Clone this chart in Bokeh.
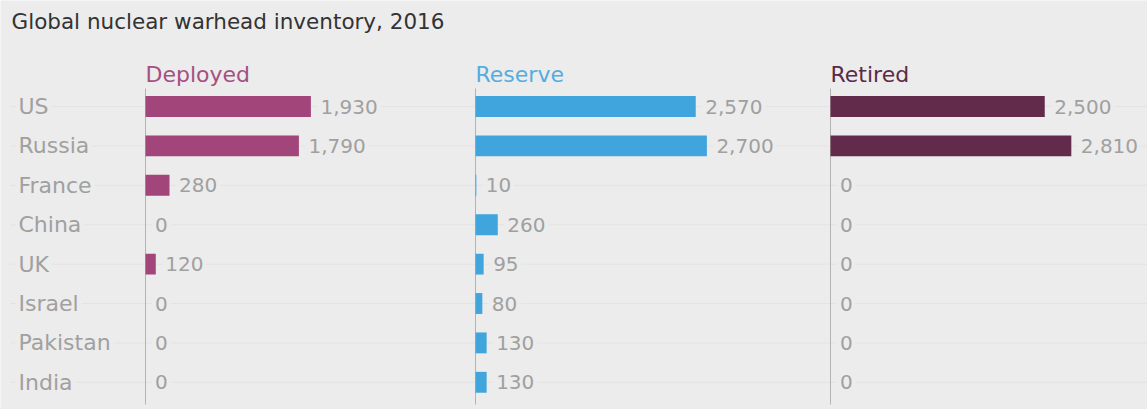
from bokeh.plotting import figure
from bokeh.models import Range1d, ColumnDataSource
from bokeh.core.properties import value
from bokeh.embed import file_html
from bokeh.resources import INLINE

# ---- data ----
countries = ["US", "Russia", "France", "China", "UK", "Israel", "Pakistan", "India"]
deployed = [1930, 1790, 280, 0, 120, 0, 0, 0]
reserve = [2570, 2700, 10, 260, 95, 80, 130, 130]
retired = [2500, 2810, 0, 0, 0, 0, 0, 0]
panel_names = ["Deployed", "Reserve", "Retired"]
title_text = "Global nuclear warhead inventory, 2016"

# ---- style / layout ----
BG = "#ececec"
bar_colors = ["#a2457a", "#3fa5dc", "#622b4b"]
head_colors = ["#a64f83", "#55addf", "#5a2a46"]
LABEL_C = "#a0a0a0"
FONT = value("DejaVu Sans")
W, H = 1147, 409
PX = 1 / 0.0857                # warheads per pixel
AX0 = 145                      # pixel position of first panel's axis
panel_px = [0, 330, 685]       # panel axis offsets (pixels)
offsets = [p * PX for p in panel_px]
ROW0, STEP = 106, 39.4         # y pixel of first row centre and row step

def ypix(py):
    return (py - ROW0) / STEP

def xpix(px):
    return (px - AX0) * PX

p = figure(width=W, height=H, output_backend="svg", toolbar_location=None,
           x_range=Range1d(xpix(0), xpix(W)), y_range=Range1d(ypix(H), ypix(0)),
           min_border=0, background_fill_color=BG, border_fill_color=BG,
           outline_line_color=None)
p.axis.visible = False
p.grid.visible = False

rows = list(range(len(countries)))

# faint gridlines at row centres
p.segment(x0=[xpix(10)] * len(rows), x1=[xpix(W)] * len(rows), y0=rows, y1=rows,
          line_color="#e3e3e3", line_width=1)

# row labels
p.text(x=[xpix(15)] * len(rows), y=rows, text=countries, text_font=FONT,
       text_font_size="22px", text_color=LABEL_C, text_baseline="middle",
       text_align="left", background_fill_color=BG, padding=3)

series = [deployed, reserve, retired]
for k, vals in enumerate(series):
    off = offsets[k]
    # axis line
    p.segment(x0=[off], x1=[off], y0=[ypix(88)], y1=[ypix(404)],
              line_color="#b3b3b3", line_width=1)
    src = ColumnDataSource(dict(
        y=rows,
        left=[off] * len(vals),
        right=[off + v for v in vals],
        tx=[off + v + 6.5 * PX for v in vals],
        txt=["{:,}".format(v) for v in vals],
    ))
    p.hbar(y="y", left="left", right="right", height=0.53, source=src,
           fill_color=bar_colors[k], line_color=None)
    p.text(x="tx", y="y", text="txt", source=src, text_font=FONT,
           text_font_size="20px", text_color=LABEL_C, text_baseline="middle",
           text_align="left", background_fill_color=BG, padding=3)
    # panel header
    p.text(x=[off], y=[ypix(74)], text=[panel_names[k]], text_font=FONT,
           text_font_size="22px", text_color=head_colors[k],
           text_baseline="middle", text_align="left")

# title
p.text(x=[xpix(11)], y=[ypix(21)], text=[title_text], text_font=FONT,
       text_font_size="21.5px", text_color="#333333", text_baseline="middle",
       text_align="left")

html = file_html(p, INLINE)
html = html.replace("<body>", '<body style="margin:0;background:%s">' % BG, 1)
open("out.html", "w").write(html)
